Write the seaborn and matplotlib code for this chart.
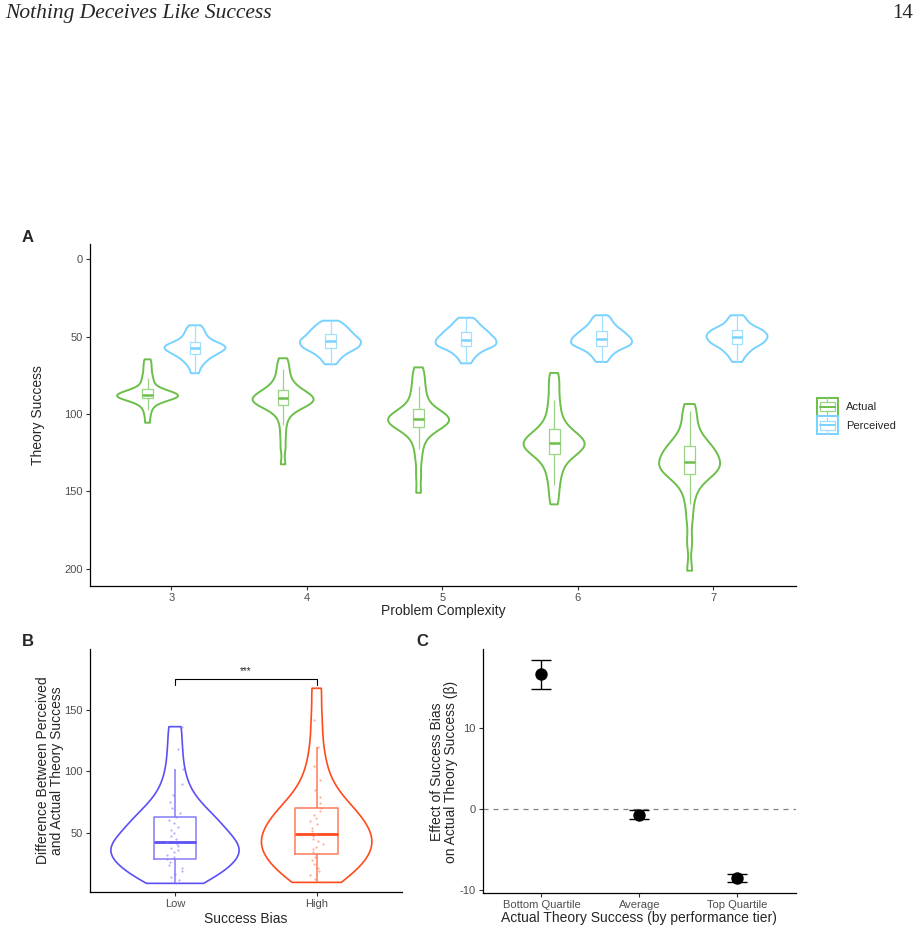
import numpy as np
import pandas as pd
import matplotlib
matplotlib.use("Agg")
import matplotlib.pyplot as plt
import seaborn as sns
from matplotlib.patches import Rectangle, Patch
from matplotlib.lines import Line2D
from matplotlib.legend_handler import HandlerBase

# ---------------- data ----------------
complexity = [3, 4, 5, 6, 7]
groups = ["Actual", "Perceived"]

actual_3 = [64.7, 68, 71, 74, 76.5, 78.5, 80.5, 82.3, 83.9, 84.5, 85.1, 85.7, 86.2, 86.7,
            87.1, 87.4, 87.6, 88.0, 88.3, 88.6, 88.9, 89.2, 89.5, 89.8, 90.0, 90.6, 91.3,
            92.2, 93.3, 95, 97.5, 101, 105.7]
actual_4 = [64, 67.5, 71, 74, 77, 79.5, 81.5, 83, 84.3, 85.3, 86.2, 87.0, 87.8, 88.6,
            89.2, 89.6, 90.0, 90.6, 91.2, 91.8, 92.4, 93, 93.5, 94, 94.4, 95.5, 97,
            99, 102, 107, 114, 122, 132.6]
actual_5 = [69.9, 74, 78, 82, 85.5, 88.5, 91.5, 94.2, 96.6, 97.8, 98.9, 99.9, 100.8, 101.6,
            102.3, 102.8, 103.1, 103.8, 104.5, 105.2, 105.9, 106.6, 107.3, 108, 108.7, 110.2,
            112, 114.5, 118, 123, 130, 140, 151]
actual_6 = [73.5, 79, 85, 91, 96, 100.5, 104.5, 107.5, 110, 111.5, 113, 114.3, 115.5, 116.6,
            117.5, 118.1, 118.6, 119.4, 120.3, 121.2, 122.1, 123.1, 124.1, 125.1, 126.1, 128,
            130.5, 133.5, 137, 141, 146, 152, 158.5]
actual_7 = [93.6, 98, 103, 108, 112, 115.5, 118, 119.8, 121, 122.3, 123.6, 124.8, 125.9, 127.2,
            128.7, 130.1, 131.3, 132.4, 133.3, 134.2, 135, 135.9, 136.9, 137.9, 138.9, 140.5,
            143, 146.5, 151, 158, 168, 183, 201.4]

perceived_3 = [42.7, 44.5, 46.2, 47.7, 49, 50.3, 51.4, 52.4, 53.3, 53.9, 54.5, 55.1, 55.6,
               56.1, 56.5, 56.9, 57.2, 57.7, 58.2, 58.7, 59.2, 59.8, 60.4, 61, 61.5, 62.3,
               63.2, 64.2, 65.3, 66.6, 68.2, 70.5, 73.7]
perceived_4 = [39.7, 41.3, 42.6, 43.7, 44.7, 45.6, 46.5, 47.3, 48.1, 48.8, 49.5, 50.2, 50.9,
               51.6, 52.1, 52.6, 53.0, 53.6, 54.2, 54.8, 55.4, 56, 56.6, 57.1, 57.6, 58.3,
               59.1, 60, 61, 62.2, 63.6, 65.5, 67.9]
perceived_5 = [37.8, 39.5, 41, 42.3, 43.5, 44.5, 45.4, 46.2, 47, 47.7, 48.4, 49.1, 49.8,
               50.5, 51.1, 51.6, 52.0, 52.6, 53.2, 53.8, 54.4, 55, 55.5, 55.9, 56.3, 57,
               57.8, 58.7, 59.8, 61, 62.5, 64.5, 67.3]
perceived_6 = [36.2, 38.2, 39.9, 41.4, 42.7, 43.9, 44.9, 45.8, 46.6, 47.3, 48, 48.7, 49.4,
               50.1, 50.7, 51.2, 51.6, 52.2, 52.8, 53.4, 54, 54.6, 55.1, 55.5, 55.9, 56.6,
               57.4, 58.3, 59.4, 60.6, 62, 64, 66.4]
perceived_7 = [36.2, 38.3, 40, 41.5, 42.8, 43.9, 44.6, 45.3, 45.9, 46.5, 47.1, 47.7, 48.3,
               48.9, 49.4, 49.9, 50.3, 50.9, 51.5, 52.1, 52.7, 53.3, 53.9, 54.5, 55, 55.8,
               56.7, 57.7, 58.8, 60.1, 61.6, 63.6, 66.4]

bias_levels = ["Low", "High"]
diff_low = [8.7, 11.5, 14, 16.5, 19, 21.5, 24, 26.5, 28.8, 30.5, 32.2, 33.9, 35.6, 37.3,
            39, 40.6, 42.1, 44.5, 47, 49.6, 52.2, 54.9, 57.6, 60, 62.5, 66, 70, 75, 81,
            90, 102, 118, 136.4]
diff_high = [9.5, 12.5, 15.5, 18.5, 21.5, 24.5, 27.5, 30.2, 32.6, 34.6, 36.6, 38.7, 40.8,
             42.9, 45, 47.1, 49.2, 51.6, 54.1, 56.7, 59.3, 62, 64.7, 67.3, 69.9, 74, 79,
             85, 93, 104, 120, 142, 167.7]

tiers = ["Bottom Quartile", "Average", "Top Quartile"]
beta = [16.69, -0.74, -8.59]
beta_lo = [14.87, -1.28, -9.08]
beta_hi = [18.46, -0.12, -8.05]

# ---------------- styling ----------------
GREEN, GREEN_L = "#6CBF4A", "#9BD384"
BLUE, BLUE_L = "#78D2FF", "#A3E0FF"
LOW, LOW_L = "#5B4FF5", "#857CF8"
HIGH, HIGH_L = "#FF4A1C", "#FF7A58"

sns.set_style("ticks")
plt.rcParams["font.family"] = ["Liberation Sans", "DejaVu Sans"]
plt.rcParams["axes.unicode_minus"] = False
plt.rcParams["axes.linewidth"] = 0.9
plt.rcParams["xtick.major.size"] = 3
plt.rcParams["ytick.major.size"] = 3
plt.rcParams["xtick.major.pad"] = 2
plt.rcParams["ytick.major.pad"] = 2
plt.rcParams["xtick.major.width"] = 0.8
plt.rcParams["ytick.major.width"] = 0.8
plt.rcParams["xtick.color"] = "#333333"
plt.rcParams["ytick.color"] = "#333333"
plt.rcParams["xtick.labelcolor"] = "#4D4D4D"
plt.rcParams["ytick.labelcolor"] = "#4D4D4D"
plt.rcParams["xtick.labelsize"] = 8
plt.rcParams["ytick.labelsize"] = 8

fig = plt.figure(figsize=(9.2, 9.33), dpi=100)
axA = fig.add_axes([0.0978, 0.3719, 0.7674, 0.3666])
axB = fig.add_axes([0.0978, 0.0436, 0.3388, 0.2608])
axC = fig.add_axes([0.5247, 0.0425, 0.3405, 0.2619])

for ax in (axA, axB, axC):
    ax.spines["top"].set_visible(False)
    ax.spines["right"].set_visible(False)
    ax.spines["left"].set_color("black")
    ax.spines["bottom"].set_color("black")

# ---------------- Panel A ----------------
actual = dict(zip(complexity, [actual_3, actual_4, actual_5, actual_6, actual_7]))
perceived = dict(zip(complexity, [perceived_3, perceived_4, perceived_5, perceived_6, perceived_7]))
offset = {"Actual": -0.175, "Perceived": 0.175}
rows = []
for g, src in (("Actual", actual), ("Perceived", perceived)):
    for c in complexity:
        for v in src[c]:
            rows.append({"group": g, "complexity": c, "xpos": c + offset[g], "value": v})
dfA = pd.DataFrame(rows)

for g, col, col_l in (("Actual", GREEN, GREEN_L), ("Perceived", BLUE, BLUE_L)):
    sub = dfA[dfA.group == g]
    sns.violinplot(data=sub, x="xpos", y="value", native_scale=True, orient="x",
                   width=0.45, density_norm="width", cut=0, inner=None, fill=False,
                   color=col, linewidth=1.4, bw_adjust=0.55, ax=axA)
    sns.boxplot(data=sub, x="xpos", y="value", native_scale=True, orient="x",
                width=0.08, fill=False, color=col_l, linewidth=0.9, showfliers=False,
                showcaps=False, medianprops=dict(color=col, linewidth=1.8), ax=axA)

axA.set_xlim(2.4, 7.61)
axA.set_ylim(211.3, -9.9)
axA.set_xticks(complexity)
axA.set_xticklabels([str(c) for c in complexity])
axA.set_yticks([0, 50, 100, 150, 200])
axA.set_xlabel("Problem Complexity", fontsize=10)
axA.set_ylabel("Theory Success", fontsize=10)
axA.xaxis.label.set_va("center")
axA.yaxis.label.set_va("center")
axA.xaxis.set_label_coords(0.5, -0.073)
axA.yaxis.set_label_coords(-0.0737, 0.5)


class BoxViolinHandler(HandlerBase):
    def create_artists(self, legend, orig_handle, xdescent, ydescent, width, height,
                       fontsize, trans):
        c = orig_handle.get_edgecolor()
        cl = orig_handle.get_facecolor()
        x0, y0 = -xdescent, -ydescent
        arts = [Rectangle((x0, y0), width, height, facecolor="white", edgecolor=c,
                          linewidth=1.4, transform=trans)]
        arts.append(Rectangle((x0 + 0.15 * width, y0 + 0.25 * height), 0.7 * width,
                              0.5 * height, facecolor="none", edgecolor=cl,
                              linewidth=0.9, transform=trans))
        arts.append(Line2D([x0 + 0.15 * width, x0 + 0.85 * width],
                           [y0 + 0.5 * height] * 2, color=c, linewidth=1.4,
                           transform=trans))
        for ya, yb in ((0, 0.25), (0.75, 1)):
            arts.append(Line2D([x0 + 0.5 * width] * 2, [y0 + ya * height, y0 + yb * height],
                               color=cl, linewidth=0.9, transform=trans))
        return arts


handles = [Patch(edgecolor=GREEN, facecolor=GREEN_L), Patch(edgecolor=BLUE, facecolor=BLUE_L)]
fig.legend(handles, groups, handler_map={Patch: BoxViolinHandler()},
           loc="center left", bbox_to_anchor=(809 / 920, 1 - 416 / 933),
           frameon=False, fontsize=8, handlelength=1.9, handleheight=2.1,
           labelspacing=0.05, handletextpad=0.7, borderpad=0.2)

# ---------------- Panel B ----------------
dfB = pd.DataFrame({"bias": ["Low"] * len(diff_low) + ["High"] * len(diff_high),
                    "diff": diff_low + diff_high})
sns.violinplot(data=dfB, x="bias", y="diff", hue="bias", order=bias_levels,
               hue_order=bias_levels, palette=[LOW, HIGH], legend=False,
               width=0.905, density_norm="area", common_norm=True, cut=0, inner=None,
               fill=False, linewidth=1.2, bw_adjust=0.7, ax=axB)
np.random.seed(3)
for lev, col, col_l in zip(bias_levels, (LOW, HIGH), (LOW_L, HIGH_L)):
    sub = dfB[dfB.bias == lev]
    sns.stripplot(data=sub, x="bias", y="diff", order=bias_levels, color=col_l,
                  jitter=0.06, size=1.6, alpha=0.6, linewidth=0, ax=axB)
    sns.boxplot(data=sub, x="bias", y="diff", order=bias_levels, width=0.3,
                fill=False, color=col_l, linewidth=1.1, showfliers=False,
                showcaps=False, medianprops=dict(color=col, linewidth=2.0), ax=axB)

axB.plot([0, 0, 1, 1], [170.4, 175, 175, 170.4], color="black", linewidth=0.8)
axB.text(0.5, 178, "***", ha="center", va="bottom", fontsize=7)
axB.set_xlim(-0.6, 1.6)
axB.set_ylim(1.4, 199.7)
axB.set_yticks([50, 100, 150])
axB.set_xlabel("Success Bias", fontsize=10)
axB.set_ylabel("Difference Between Perceived\nand Actual Theory Success", fontsize=10,
               linespacing=1.0)
axB.xaxis.label.set_va("center")
axB.yaxis.label.set_va("center")
axB.xaxis.set_label_coords(0.5, -0.108)
axB.yaxis.set_label_coords(-0.128, 0.5)

# ---------------- Panel C ----------------
sns.scatterplot(x=tiers, y=beta, color="black", s=80, linewidth=0, zorder=4, ax=axC)
yerr = [np.array(beta) - np.array(beta_lo), np.array(beta_hi) - np.array(beta)]
axC.errorbar(tiers, beta, yerr=yerr, fmt="none", ecolor="black", elinewidth=1.0,
             capsize=7.5, capthick=1.0, zorder=3)
axC.axhline(0, color="#808080", linestyle=(0, (4, 4)), linewidth=0.9, zorder=1)
axC.set_xlim(-0.6, 2.6)
axC.set_ylim(-10.45, 19.8)
axC.set_yticks([-10, 0, 10])
axC.set_xlabel("Actual Theory Success (by performance tier)", fontsize=10)
axC.set_ylabel("Effect of Success Bias\non Actual Theory Success (\u03b2)", fontsize=10,
               linespacing=1.0)
axC.xaxis.label.set_va("center")
axC.yaxis.label.set_va("center")
axC.xaxis.set_label_coords(0.5, -0.102)
axC.yaxis.set_label_coords(-0.1235, 0.4986)

# ---------------- header & panel letters ----------------
fig.text(0.006, 0.985, "Nothing Deceives Like Success", family="Liberation Serif",
         style="italic", fontsize=15.5, va="center", ha="left")
fig.text(0.992, 0.985, "14", family="Liberation Serif", fontsize=15, va="center", ha="right")
fig.text(22 / 920, 1 - 237 / 933, "A", fontsize=12, fontweight="bold", va="center")
fig.text(22 / 920, 1 - 641 / 933, "B", fontsize=12, fontweight="bold", va="center")
fig.text(416 / 920, 1 - 641 / 933, "C", fontsize=12, fontweight="bold", va="center")

fig.savefig("out.png", dpi=100)
